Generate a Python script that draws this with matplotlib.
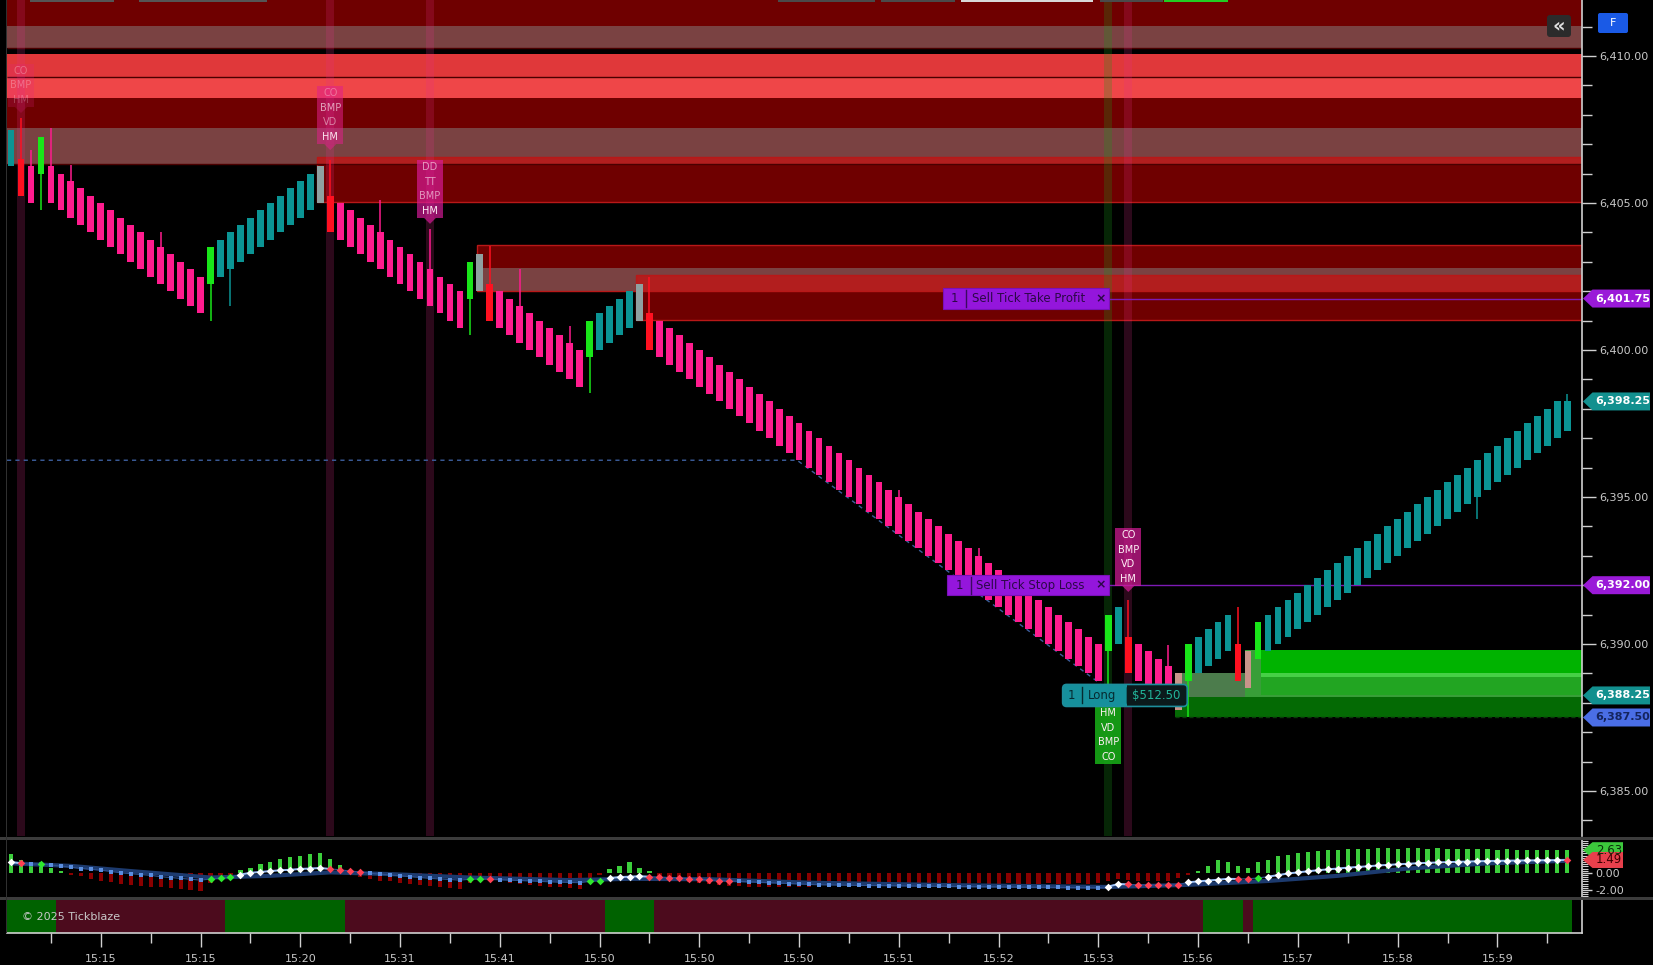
import matplotlib
matplotlib.use("Agg")
import matplotlib.pyplot as plt
import numpy as np
from matplotlib.patches import Rectangle, Polygon, FancyBboxPatch
from matplotlib.ticker import FixedLocator, MultipleLocator, FuncFormatter, NullFormatter

W, H = 1653, 965
plt.rcParams["font.family"] = ["DejaVu Sans"]

# ---------------- data ----------------
BOX = 1.25  # brick height
closes = [
    6407.50, 6405.25, 6405.00, 6407.25, 6405.00,
    6404.75, 6404.50, 6404.25, 6404.00, 6403.75, 6403.50, 6403.25, 6403.00, 6402.75, 6402.50,
    6402.25, 6402.00, 6401.75, 6401.50, 6401.25,
    6403.50,
    6403.75, 6404.00, 6404.25, 6404.50, 6404.75, 6405.00, 6405.25, 6405.50, 6405.75, 6406.00,
    6406.25, 6404.00,
    6403.75, 6403.50, 6403.25, 6403.00, 6402.75, 6402.50, 6402.25, 6402.00, 6401.75, 6401.50,
    6401.25, 6401.00, 6400.75,
    6403.00, 6403.25, 6401.00,
    6400.75, 6400.50, 6400.25, 6400.00, 6399.75, 6399.50, 6399.25, 6399.00, 6398.75,
    6401.00,
    6401.25, 6401.50, 6401.75, 6402.00,
    6402.25, 6400.00,
    6399.75, 6399.50, 6399.25, 6399.00, 6398.75, 6398.50, 6398.25, 6398.00, 6397.75, 6397.50,
    6397.25, 6397.00, 6396.75, 6396.50, 6396.25, 6396.00, 6395.75, 6395.50, 6395.25, 6395.00,
    6394.75, 6394.50, 6394.25, 6394.00, 6393.75, 6393.50, 6393.25, 6393.00, 6392.75, 6392.50,
    6392.25, 6392.00, 6391.75, 6391.50, 6391.25, 6391.00, 6390.75, 6390.50, 6390.25, 6390.00,
    6389.75, 6389.50, 6389.25, 6389.00, 6388.75,
    6391.00, 6391.25, 6389.00,
    6388.75, 6388.50, 6388.25, 6388.00,
    6387.75, 6390.00,
    6390.25, 6390.50, 6390.75, 6391.00,
    6388.75, 6388.50, 6390.75,
    6391.00, 6391.25, 6391.50, 6391.75, 6392.00, 6392.25, 6392.50, 6392.75, 6393.00, 6393.25,
    6393.50, 6393.75, 6394.00, 6394.25, 6394.50, 6394.75, 6395.00, 6395.25, 6395.50, 6395.75,
    6396.00, 6396.25, 6396.50, 6396.75, 6397.00, 6397.25, 6397.50, 6397.75, 6398.00, 6398.25,
    6398.25,
]
# u up, d down, G reversal up, R reversal down, n neutral up, f faded down
kinds = "".join([
    "uRdGd", "ddddddddddddddd", "G", "uuuuuuuuuu", "nR", "ddddddddddddd", "GnR",
    "ddddddddd", "G", "uuuu", "nR",
    "dddddddddddddddddddddddddddddddddddddddddddd" + "d",
    "GuR", "dddd", "fG", "uuuu", "RfG",
    "uuuuuuuuuuuuuuuuuuuuuuuuuuuuuuu",
])
last_open = 6397.25
highs = {1: 6407.9, 2: 6406.8, 4: 6407.55, 6: 6406.3, 15: 6404.0, 32: 6406.45,
         37: 6405.1, 42: 6404.1, 48: 6403.55, 51: 6402.75, 56: 6400.8, 64: 6402.5,
         89: 6395.25, 97: 6393.25, 112: 6391.5, 116: 6389.95, 123: 6391.25, 156: 6398.5}
lows = {3: 6404.75, 20: 6401.0, 22: 6401.5, 46: 6400.5, 58: 6398.55, 110: 6387.7,
        118: 6387.5, 147: 6394.25}

# supply / demand zones: (start bar, low, high, fill)
zones = [
    (-0.4, 6411.02, 6412.00, "dark"), (-0.4, 6410.27, 6411.02, "grey"),
    (-0.4, 6409.29, 6410.07, "bright"), (-0.4, 6408.57, 6409.29, "bright2"),
    (-0.4, 6407.55, 6408.57, "dark"), (-0.4, 6406.33, 6407.55, "grey"),
    (30.7, 6406.33, 6406.56, "overlap"), (30.7, 6405.03, 6406.33, "dark"),
    (46.7, 6402.79, 6403.57, "dark"), (46.7, 6402.02, 6402.79, "grey"),
    (62.7, 6402.02, 6402.55, "overlap"), (62.7, 6401.02, 6402.02, "dark"),
    (116.7, 6388.20, 6389.01, "g_grey"), (116.7, 6387.52, 6388.20, "g_dark"),
    (123.7, 6388.20, 6389.80, "g_mid"), (125.3, 6389.01, 6389.80, "g_bright"),
    (125.3, 6388.27, 6388.88, "g_mid2"), (125.3, 6388.88, 6389.01, "g_line"),
]
zone_boxes = [(30.7, 6405.03, 6406.56), (46.7, 6402.02, 6403.57), (62.7, 6401.02, 6402.55)]

# signal markers: (bar, side, tip price, labels)
signals = [
    (1, "down", 6408.06, ["CO", "BMP", "HM"]),
    (32, "down", 6406.80, ["CO", "BMP", "VD", "HM"]),
    (42, "down", 6404.29, ["DD", "TT", "BMP", "HM"]),
    (112, "down", 6391.77, ["CO", "BMP", "VD", "HM"]),
    (110, "up", 6388.10, ["HM", "VD", "BMP", "CO"]),
]
band_bars = [1, 32, 42, 110, 112]
band_kind = ["sell", "sell", "sell", "buy", "sell"]

trail_x = [-0.4, 78.8, 109.2]
trail_y = [6396.25, 6396.25, 6388.65]

take_profit = 6401.75
stop_loss = 6392.00
entry_price = 6388.25
avg_price = 6387.50
last_price = 6398.25
pnl_text = "$512.50"

# indicator panel
hist = [
    2.2, 1.5, 0.9, 1.3, 0.6, 0.2, -0.2,
    -0.4, -0.7, -0.9, -1.1, -1.3, -1.4, -1.5, -1.6, -1.7, -1.8, -1.9, -2.0, -2.1,
    -1.2, -0.6, -0.2,
    0.3, 0.6, 1.0, 1.3, 1.6, 1.8, 2.0, 2.2, 2.3, 1.6, 0.9,
    -0.2, -0.5, -0.7, -0.9, -1.0, -1.2, -1.3, -1.4, -1.5, -1.6, -1.8, -1.9,
    -1.2, -0.8, -0.9,
    -1.0, -1.2, -1.3, -1.4, -1.5, -1.6, -1.7, -1.8, -1.9,
    -1.0, -0.3, 0.4, 0.8, 1.2, 0.6, 0.2,
    -0.5, -0.8, -1.0, -1.1, -1.2, -1.3, -1.4, -1.5, -1.5, -1.6, -1.6, -1.6, -1.7, -1.7, -1.7, -1.6,
    -1.3, -1.3, -1.4, -1.3, -1.3, -1.4, -1.3, -1.3, -1.2, -1.3, -1.3, -1.3, -1.2, -1.3, -1.3,
    -1.3, -1.2, -1.3, -1.3, -1.2, -1.3, -1.3, -1.3, -1.2, -1.3, -1.3, -1.2, -1.3, -1.2,
    -0.9, -0.7, -0.8, -0.9, -1.0, -1.0, -0.9, -0.6, -0.2,
    0.2, 0.8, 1.5, 1.2, 0.8, 0.6, 1.2, 1.5, 1.9, 2.1, 2.3, 2.45, 2.55, 2.6,
    2.7, 2.75, 2.8, 2.8, 2.85, 2.85, 2.8, 2.85, 2.85, 2.8, 2.85, 2.8, 2.8, 2.75, 2.8, 2.75,
    2.7, 2.75, 2.7, 2.7, 2.65, 2.7, 2.65, 2.63,
]
line = [
    1.25, 1.1, 1.0, 1.05, 0.9, 0.8, 0.65, 0.5, 0.4, 0.3, 0.15, 0.0, -0.1, -0.2, -0.3, -0.45,
    -0.55, -0.65, -0.75, -0.85,
    -0.72, -0.6, -0.5,
    -0.2, 0.0, 0.1, 0.2, 0.3, 0.35, 0.45, 0.5, 0.55,
    0.45, 0.35, 0.2, 0.1,
    -0.05, -0.15, -0.25, -0.35, -0.45, -0.55, -0.65, -0.72, -0.8, -0.85,
    -0.75, -0.7, -0.72,
    -0.8, -0.85, -0.9, -0.95, -1.0, -1.05, -1.1, -1.12, -1.15,
    -1.0, -0.9,
    -0.6, -0.5, -0.45, -0.4,
    -0.45, -0.5, -0.55, -0.6, -0.7, -0.75, -0.8, -0.9, -0.95,
    -1.0, -1.05, -1.1, -1.15, -1.2, -1.25, -1.3, -1.35,
    -1.40, -1.42, -1.44, -1.45, -1.47, -1.48, -1.50, -1.51, -1.52, -1.54, -1.55, -1.56, -1.57,
    -1.58, -1.60, -1.61, -1.62, -1.63, -1.64, -1.65, -1.66, -1.67, -1.68, -1.69, -1.70, -1.71,
    -1.72, -1.73, -1.74,
    -1.6, -1.3,
    -1.35, -1.4, -1.42, -1.42, -1.42, -1.4,
    -1.1, -1.0, -0.9, -0.8, -0.7,
    -0.72, -0.7, -0.6,
    -0.45, -0.27, -0.08, 0.05, 0.18, 0.3, 0.4, 0.5, 0.6, 0.68, 0.76, 0.85, 0.92, 0.99, 1.05,
    1.11, 1.16, 1.2, 1.24, 1.28, 1.31, 1.34, 1.37, 1.39, 1.41, 1.43, 1.44, 1.45, 1.46, 1.47,
    1.49,
]
dots = "".join([
    "wrbg", "bbbbbbbbbbbbbbbb", "ggg", "wwwwwwwww", "rrrr", "bbbbbbbbbb", "ggr",
    "bbbbbbbbb", "gg", "wwww", "rrrrrrrrr",
    "bbbbbbbbbb", "bbbbbbbbbb", "bbbbbbbbbb", "bbbbbbb",
    "ww", "rrrrrr", "wwwww", "rrg",
    "wwwwwwwwww", "wwwwwwwwww", "wwwwwwwwww", "r",
])
slow_x = [0, 6, 12, 20, 26, 32, 38, 46, 56, 62, 70, 80, 95, 110, 118, 126, 133, 140, 148, 156]
slow_y = [1.1, 0.8, 0.2, -0.55, -0.35, 0.05, -0.15, -0.55, -0.85, -0.7, -0.75, -1.15, -1.45,
          -1.65, -1.4, -0.95, -0.35, 0.5, 1.1, 1.4]
hist_last = 2.63
line_last = 1.49

# trend ribbon (g = up, m = down)
trend = "".join([
    "ggggg", "mmmmmmmmmmmmmmmmm", "gggggggggggg", "mmmmmmmmmmmmmmmmmmmmmmmmmm", "ggggg",
    "mmmmmmmmmmmmmmmmmmmmmmmmmmmmmmmmmmmmmmmmmmmmmmmmmmmmmmm", "gggg", "m",
    "gggggggggggggggggggggggggggggggg",
])

label_bars = [9, 19, 29, 39, 49, 59, 69, 79, 89, 99, 109, 119, 129, 139, 149]
minor_bars = [4, 14, 24, 34, 44, 54, 64, 74, 84, 94, 104, 114, 124, 134, 144, 154]
time_labels = ["15:15", "15:15", "15:20", "15:31", "15:41", "15:50", "15:50", "15:50",
               "15:51", "15:52", "15:53", "15:56", "15:57", "15:58", "15:59"]

n = len(closes)
for arr in (kinds, hist, line, dots, trend):
    assert len(arr) == n, len(arr)

# ---------------- styles ----------------
candle_col = {"u": "#0b9494", "d": "#ff1c8e", "G": "#19e619", "R": "#ff1020",
              "n": "#8fa0a0", "f": "#c8948a"}
zone_col = {"dark": "#6f0000", "grey": "#7a4242", "bright": "#e0383a", "bright2": "#ef4648",
            "overlap": "#b21e1e", "g_grey": "#4c7c4c", "g_dark": "#046a04",
            "g_mid": "#389e38", "g_bright": "#00b300", "g_mid2": "#22a522",
            "g_line": "#46d046"}
XL, XR = -0.403, 157.48
AXC = "#d0d0d0"
TXC = "#c8c8c8"

fig = plt.figure(figsize=(W / 100, H / 100), dpi=100, facecolor="black")


def frac(x0, y0, x1, y1):
    return [x0 / W, 1 - y1 / H, (x1 - x0) / W, (y1 - y0) / H]


ax = fig.add_axes(frac(7, 0, 1582, 836))
ind = fig.add_axes(frac(7, 840, 1582, 897))
bot = fig.add_axes(frac(7, 900, 1582, 933))
for a in (ax, ind, bot):
    a.set_facecolor("black")
    a.set_xlim(XL, XR)
    for s in ("top", "left", "bottom"):
        a.spines[s].set_visible(False)
    a.spines["right"].set_color(AXC)
    a.spines["right"].set_linewidth(1.2)
    a.tick_params(axis="x", which="both", bottom=False, labelbottom=False)

ax.set_ylim(6383.469, 6411.905)
ind.set_ylim(-2.814, 3.814)
bot.set_ylim(0, 1)

# zones
for s, lo, hi, k in zones:
    ax.add_patch(Rectangle((s, lo), XR - s, hi - lo, fc=zone_col[k], lw=0, zorder=1))
for s, lo, hi in zone_boxes:
    ax.add_patch(Rectangle((s, lo), XR - s + 1, hi - lo, fill=False, ec="#b81818", lw=1, zorder=1.2))
ax.hlines([6410.27, 6409.29, 6406.33], XL, XR, color="#4a0000", lw=1, zorder=1.3)
ax.hlines(6387.52, 116.7, XR, color="#0a3a0a", lw=1, linestyles=(0, (3, 2)), zorder=1.3)

# signal bands
for b, k in zip(band_bars, band_kind):
    if k == "buy":
        ax.axvspan(b - 0.4, b + 0.4, color="#1a9a1a", alpha=0.25, lw=0, zorder=1.5)
    else:
        ax.axvspan(b - 0.4, b + 0.4, color="#e0308a", alpha=0.2, lw=0, zorder=1.5)

# trailing stop and order lines
ax.plot(trail_x, trail_y, color="#3d5f9e", lw=1, dashes=(3, 3), zorder=2)
ax.hlines([take_profit, stop_loss], 110.1, XR, color="#7d1ab5", lw=1, zorder=2.5)

# candles
x = np.arange(n)
opens = [c - BOX if k in "uGn" else c + BOX for c, k in zip(closes, kinds)]
opens[-1] = last_open
cols = [candle_col[k] for k in kinds]
lo_b = [min(o, c) for o, c in zip(opens, closes)]
hi_b = [max(o, c) for o, c in zip(opens, closes)]
ax.bar(x, np.subtract(hi_b, lo_b), bottom=lo_b, width=0.68, color=cols, lw=0, zorder=3)
for i, h in highs.items():
    ax.vlines(i, hi_b[i], h, color=cols[i], lw=1.1, zorder=2.9)
for i, l in lows.items():
    ax.vlines(i, l, lo_b[i], color=cols[i], lw=1.1, zorder=2.9)

ax.yaxis.tick_right()
ax.yaxis.set_major_locator(MultipleLocator(5))
ax.yaxis.set_minor_locator(MultipleLocator(1))
ax.yaxis.set_major_formatter(FuncFormatter(lambda v, _: f"{v:,.2f}"))
ax.tick_params(axis="y", which="major", length=10, width=1, colors=AXC, labelcolor=TXC,
               labelsize=8, pad=2.5)
ax.tick_params(axis="y", which="minor", length=7, width=1, colors=AXC)

# indicator
hcol = ["#3ccf3c" if v > 0 else "#8a0000" for v in hist]
ind.bar(x, hist, width=0.42, color=hcol, lw=0, zorder=1)
ind.plot(slow_x, slow_y, color="#1c3a6e", lw=3, zorder=2, solid_capstyle="round")
ind.plot(x, line, color="#2c5090", lw=0.8, zorder=3)
# bright connector where the signal line is white
wi = [i for i, d in enumerate(dots) if d == "w"]
for i in wi:
    if i + 1 < n and dots[i + 1] in "wr":
        ind.plot([i, i + 1], [line[i], line[i + 1]], color="#9cc0f5", lw=1.4, zorder=3.5)
dot_style = {"b": ("s", 5, "#5b8fe0"), "w": ("D", 15, "white"),
             "r": ("D", 15, "#ff4052"), "g": ("D", 15, "#2ee82e")}
for key, (m, sz, c) in dot_style.items():
    idx = [i for i, d in enumerate(dots) if d == key]
    ind.scatter(idx, [line[i] for i in idx], marker=m, s=sz, color=c, lw=0, zorder=4)
ind.yaxis.tick_right()
ind.yaxis.set_major_locator(FixedLocator([0, -2]))
ind.yaxis.set_major_formatter(FuncFormatter(lambda v, _: f"{v:.2f}"))
ind.yaxis.set_minor_locator(MultipleLocator(0.25))
ind.tick_params(axis="y", which="major", length=7, width=1, colors=AXC, labelcolor=TXC,
                labelsize=8, pad=2.5)
ind.tick_params(axis="y", which="minor", length=4, width=0.8, colors=AXC)

# trend ribbon
tcol = {"g": "#006200", "m": "#4c0b1d"}
start = 0
for i in range(1, n + 1):
    if i == n or trend[i] != trend[start]:
        bot.add_patch(Rectangle((start - 0.5, 0), i - start, 1, fc=tcol[trend[start]], lw=0))
        start = i
bot.set_yticks([])
bot.spines["bottom"].set_visible(True)
bot.spines["bottom"].set_color(AXC)
bot.spines["bottom"].set_linewidth(1.2)
bot.xaxis.set_major_locator(FixedLocator(label_bars))
bot.xaxis.set_minor_locator(FixedLocator(minor_bars))
bot.set_xticklabels(time_labels)
bot.xaxis.set_minor_formatter(NullFormatter())
bot.tick_params(axis="x", which="major", bottom=True, labelbottom=True, length=10, width=1,
                colors=AXC, labelcolor=TXC, labelsize=8, pad=5)
bot.tick_params(axis="x", which="minor", bottom=True, length=7, width=1, colors=AXC)

# ---------------- overlay (pixel space) ----------------
ov = fig.add_axes([0, 0, 1, 1], zorder=20)
ov.set_xlim(0, W)
ov.set_ylim(H, 0)
ov.axis("off")
ov.patch.set_alpha(0)


def to_px(a, xv, yv):
    dx, dy = a.transData.transform((xv, yv))
    return dx, H - dy


# panel separators, left border
ov.add_patch(Rectangle((0, 837), W, 3, fc="#3c3c3c", lw=0))
ov.add_patch(Rectangle((0, 897), W, 3, fc="#3c3c3c", lw=0))
ov.add_patch(Rectangle((5.5, 0), 1.2, 933, fc="#303030", lw=0))

# toolbar remnants at the top edge
for x0, x1, c in [(30, 114, "#555555"), (139, 267, "#555555"), (778, 875, "#4a4a4a"),
                  (881, 955, "#4a4a4a"), (961, 1093, "#d8d8d8"), (1100, 1163, "#4a4a4a"),
                  (1164, 1228, "#22cc22")]:
    ov.add_patch(Rectangle((x0, 0), x1 - x0, 2.2, fc=c, lw=0))

# signal markers
sig_style = [
    ("#e0208a", 0.2, [0.3, 0.3, 0.25]),
    ("#e0208a", 0.55, [0.35, 0.65, 0.5, 0.95]),
    ("#d81c9a", 0.68, [0.6, 0.6, 0.6, 1.0]),
    ("#d81c9a", 0.7, [1.0, 1.0, 1.0, 1.0]),
    ("#16a016", 0.95, [1.0, 1.0, 1.0, 1.0]),
]
for (b, side, tip, labs), (fc, ba, tas) in zip(signals, sig_style):
    tx, ty = to_px(ax, b, tip)
    bw, row, ah = 26, 14.5, 6
    nr = len(labs)
    if side == "down":
        bb = ty - ah
        bt = bb - nr * row
        arrow = [(tx - 6, bb), (tx + 6, bb), (tx, ty)]
    else:
        bt = ty + ah
        arrow = [(tx - 6, bt), (tx + 6, bt), (tx, ty)]
    ov.add_patch(Rectangle((tx - bw / 2, bt), bw, nr * row, fc=fc, alpha=ba, lw=0))
    ov.add_patch(Polygon(arrow, closed=True, fc=fc, alpha=ba, lw=0))
    for k, (lab, ta) in enumerate(zip(labs, tas)):
        ov.text(tx, bt + row * (k + 0.5), lab, ha="center", va="center", fontsize=7,
                color="#fff0f6", alpha=ta)


def order_tag(right_bar, price, width, label):
    rx, py = to_px(ax, right_bar, price)
    lx = rx - width
    ov.add_patch(Rectangle((lx, py - 10.3), width, 20.6, fc="#9416dc", ec="#7a10b8", lw=0.8))
    ov.text(lx + 12, py, "1", ha="center", va="center", fontsize=8.5, color="#2c0848")
    ov.plot([lx + 23.6, lx + 23.6], [py - 8.5, py + 8.5], color="#3a0a60", lw=1)
    ov.text(lx + 29, py, label, ha="left", va="center", fontsize=8.5, color="#2c0848")
    ov.text(rx - 8.6, py, "×", ha="center", va="center", fontsize=9, fontweight="bold",
            color="#2c0848")


order_tag(110.1, take_profit, 166.6, "Sell Tick Take Profit")
order_tag(110.08, stop_loss, 162, "Sell Tick Stop Loss")

# position tag
lx, py = to_px(ax, 105.42, entry_price)
ov.add_patch(FancyBboxPatch((lx, py - 11), 124.6, 22, boxstyle="round,pad=0,rounding_size=4",
                            fc="#16909c", ec="none"))
ov.add_patch(FancyBboxPatch((lx + 64, py - 11), 60.6, 22, boxstyle="round,pad=0,rounding_size=4",
                            fc="#0b1a1c", ec="none"))
ov.add_patch(Rectangle((lx + 64, py - 11), 8, 22, fc="#0b1a1c", lw=0))
ov.add_patch(FancyBboxPatch((lx, py - 11), 124.6, 22, boxstyle="round,pad=0,rounding_size=4",
                            fill=False, ec="#1d8e9c", lw=1.2))
ov.text(lx + 8.5, py, "1", ha="center", va="center", fontsize=8.5, color="#062a30")
ov.plot([lx + 19, lx + 19], [py - 8, py + 8], color="#062a30", lw=1)
ov.text(lx + 25, py, "Long", ha="left", va="center", fontsize=8.5, color="#062a30")
ov.text(lx + 69, py, pnl_text, ha="left", va="center", fontsize=8.5, color="#22b59a")


def axis_tag(a, value, text, fc, tc, x1=1650, half=9, bold=True, fs=8):
    _, py = to_px(a, 0, value)
    pts = [(1583, py), (1592.5, py - half), (x1, py - half), (x1, py + half), (1592.5, py + half)]
    ov.add_patch(Polygon(pts, closed=True, fc=fc, lw=0))
    ov.text((1592.5 + x1) / 2 + 1, py, text, ha="center", va="center", fontsize=fs,
            fontweight="bold" if bold else "normal", color=tc)


tag_style = {take_profit: ("#9a1ad8", "white"), last_price: ("#12908f", "white"),
             stop_loss: ("#9a1ad8", "white"), entry_price: ("#12908f", "white"),
             avg_price: ("#4a6ee6", "#14245e")}
for p, (fc, tc) in tag_style.items():
    axis_tag(ax, p, f"{p:,.2f}", fc, tc)
axis_tag(ind, hist_last, f"{hist_last:.2f}", "#3cc83c", "#0a300a", x1=1623, half=8,
         bold=False, fs=8.5)
axis_tag(ind, line_last, f"{line_last:.2f}", "#e8404c", "#3a0000", x1=1623, half=8,
         bold=False, fs=8.5)

# buttons
ov.add_patch(FancyBboxPatch((1547, 15), 24, 22, boxstyle="round,pad=0,rounding_size=3",
                            fc="#2b2b2b", ec="none"))
ov.text(1559, 25.5, "«", ha="center", va="center", fontsize=14, fontweight="bold",
        color="#e0e0e0")
ov.add_patch(FancyBboxPatch((1598, 13), 30, 20, boxstyle="round,pad=0,rounding_size=2",
                            fc="#1a5ae6", ec="none"))
ov.text(1613, 23, "F", ha="center", va="center", fontsize=8, color="white")

ov.text(22, 917, "© 2025 Tickblaze", ha="left", va="center", fontsize=8, color=TXC)

fig.savefig("out.png", dpi=100, facecolor="black")
